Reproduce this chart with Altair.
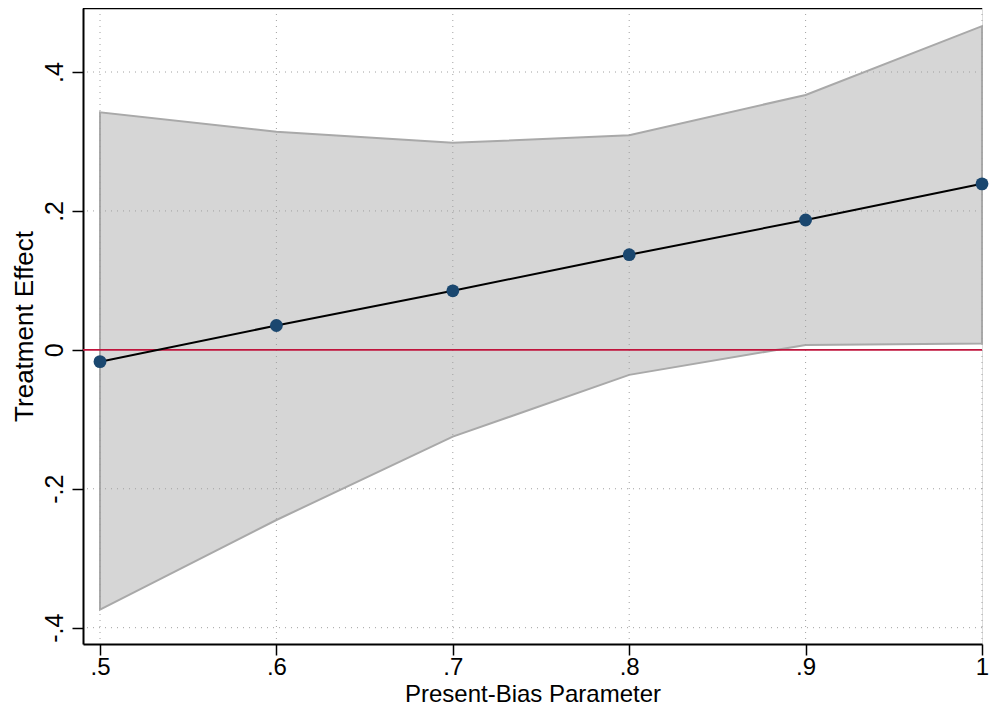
import altair as alt
import pandas as pd

# Data
beta = [0.5, 0.6, 0.7, 0.8, 0.9, 1.0]
effect = [-0.017, 0.035, 0.085, 0.137, 0.187, 0.239]
ci_low = [-0.374, -0.245, -0.125, -0.036, 0.007, 0.009]
ci_high = [0.342, 0.314, 0.298, 0.309, 0.367, 0.466]

x_ticks = [0.5, 0.6, 0.7, 0.8, 0.9, 1.0]
y_ticks = [-0.4, -0.2, 0.0, 0.2, 0.4]

df = pd.DataFrame({"beta": beta, "effect": effect, "lo": ci_low, "hi": ci_high})
xg = pd.DataFrame({"v": x_ticks})
yg = pd.DataFrame({"v": [t for t in y_ticks if t != 0.0]})
zero = pd.DataFrame({"v": [0.0]})

FONT = "Liberation Sans"
W, H = 899, 636
xdom = [0.49036, 1.0]
ydom = [-0.4235, 0.49215]

x_lab_expr = "datum.value == 1 ? '1' : replace(format(datum.value, '.1f'), '0.', '.')"
y_lab_expr = ("datum.value == 0 ? '0' : (datum.value < 0 ? '-' + replace(format(-datum.value, '.1f'), '0.', '.') "
              ": replace(format(datum.value, '.1f'), '0.', '.'))")

xscale = alt.Scale(domain=xdom, nice=False, zero=False)
yscale = alt.Scale(domain=ydom, nice=False, zero=False)

xaxis = alt.Axis(values=x_ticks, labelExpr=x_lab_expr, grid=False, domainColor="black",
                 domainWidth=2, tickColor="black", tickWidth=1.5, tickSize=11,
                 labelFont=FONT, labelFontSize=24, labelColor="black", labelPadding=19,
                 labelBaseline="alphabetic", labelAlign="center", labelFlush=False,
                 title="Present-Bias Parameter", titleFont=FONT, titleFontSize=24,
                 titleFontWeight="normal", titleColor="black", titleY=57,
                 titleBaseline="alphabetic")
yaxis = alt.Axis(values=y_ticks, labelExpr=y_lab_expr, grid=False, domainColor="black",
                 domainWidth=2, tickColor="black", tickWidth=1.5, tickSize=11,
                 labelFont=FONT, labelFontSize=25, labelColor="black", labelPadding=10,
                 labelAngle=270, labelAlign="center", labelBaseline="alphabetic",
                 labelFlush=False,
                 title="Treatment Effect", titleFont=FONT, titleFontSize=26,
                 titleFontWeight="normal", titleColor="black", titleX=-51,
                 titleBaseline="alphabetic")

band = alt.Chart(df).mark_area(color="#d6d6d6", stroke="#a9a9a9", strokeWidth=2,
                               opacity=1).encode(
    x=alt.X("beta:Q", scale=xscale, axis=xaxis),
    y=alt.Y("lo:Q", scale=yscale, axis=yaxis),
    y2="hi:Q",
)

gridx = alt.Chart(xg).mark_rule(color="#a0a0a0", strokeWidth=1, strokeDash=[1, 5]).encode(
    x=alt.X("v:Q", scale=xscale)
)
gridy = alt.Chart(yg).mark_rule(color="#a0a0a0", strokeWidth=1, strokeDash=[1, 5]).encode(
    y=alt.Y("v:Q", scale=yscale)
)
zline = alt.Chart(zero).mark_rule(color="#c0143c", strokeWidth=1.6).encode(
    y=alt.Y("v:Q", scale=yscale)
)
line = alt.Chart(df).mark_line(color="black", strokeWidth=2).encode(
    x=alt.X("beta:Q", scale=xscale),
    y=alt.Y("effect:Q", scale=yscale),
)
pts = alt.Chart(df).mark_point(filled=True, color="#1a476f", size=165, opacity=1).encode(
    x=alt.X("beta:Q", scale=xscale),
    y=alt.Y("effect:Q", scale=yscale),
)
# frame line along the top of the plot region
topframe = alt.Chart(zero).mark_rule(color="black", strokeWidth=2.5).encode(
    y=alt.value(0)
)

chart = alt.layer(band, gridx, gridy, zline, line, pts, topframe).properties(
    width=W,
    height=H,
    autosize=alt.AutoSizeParams(type="none"),
    padding={"left": 75, "top": 0, "right": 8, "bottom": 62},
).configure_view(stroke=None).configure(background="white")

chart.save("out.html", embed_options={"renderer": "svg", "actions": False})
